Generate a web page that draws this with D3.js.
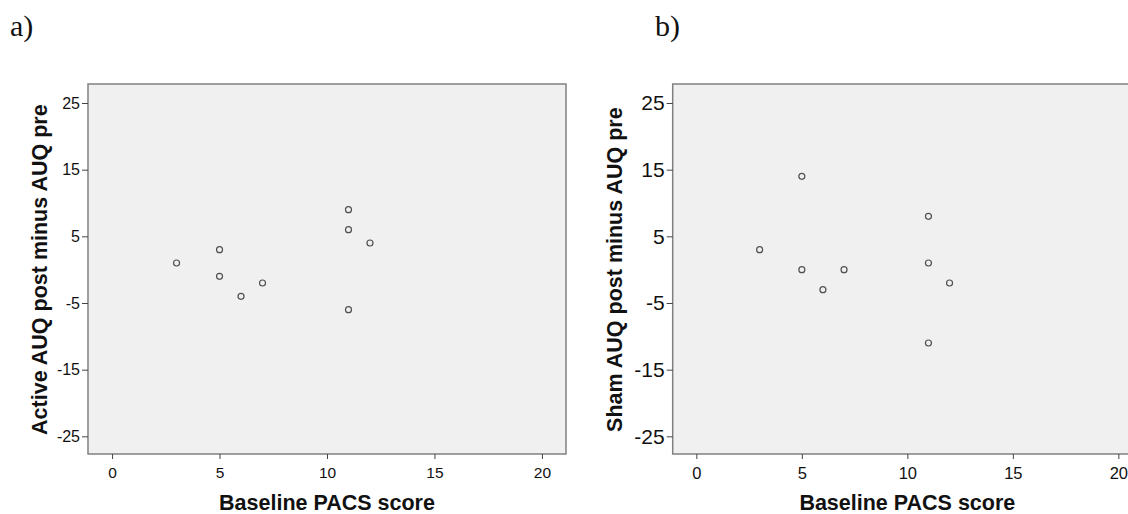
<!DOCTYPE html>
<html>
<head>
<meta charset="utf-8">
<script src="https://cdn.jsdelivr.net/npm/d3@7"></script>
<style>
  body { margin: 0; background: #fff; }
  svg { display: block; }
  text { font-family: "Liberation Sans", Arial, sans-serif; fill: #111; }
</style>
</head>
<body>
<svg id="chart" width="1128" height="514"></svg>
<script>
// data
var activeX = [3, 5, 5, 6, 7, 11, 11, 12, 11];
var activeY = [1, 3, -1, -4, -2, 9, 6, 4, -6];
var shamX = [3, 5, 5, 6, 7, 11, 11, 12, 11];
var shamY = [3, 14, 0, -3, 0, 8, 1, -2, -11];
var xTicks = [0, 5, 10, 15, 20];
var yTicks = [25, 15, 5, -5, -15, -25];

var svg = d3.select('#chart');

var panels = [
    { tag: 'a)', tagX: 10, left: 88, right: 566, xs: activeX, ys: activeY,
      yTitle: 'Active AUQ post minus AUQ pre', yTitleX: 47, yTickSize: 16, xTickSize: 15.5 },
    { tag: 'b)', tagX: 655, left: 672.7, right: 1142, xs: shamX, ys: shamY,
      yTitle: 'Sham AUQ post minus AUQ pre', yTitleX: 622, yTickSize: 21, xTickSize: 16.5 }
];

var plotTop = 84, plotBottom = 454;

// SPSS style labels use a plain hyphen, not the unicode minus
function plain(d) { return String(d); }

panels.forEach(function(p) {
    var x = d3.scaleLinear().domain([-1.12, 21.12]).range([p.left, p.right]);
    var y = d3.scaleLinear().domain([-27.65, 27.85]).range([plotBottom, plotTop]);

    svg.append('text')
        .attr('x', p.tagX)
        .attr('y', 36)
        .style('font-family', '"Liberation Serif", "Times New Roman", serif')
        .style('font-size', '30px')
        .text(p.tag);

    svg.append('rect')
        .attr('x', p.left)
        .attr('y', plotTop)
        .attr('width', p.right - p.left)
        .attr('height', plotBottom - plotTop)
        .attr('fill', '#f0f0f0')
        .attr('stroke', '#808080')
        .attr('stroke-width', 1.5);

    var gx = svg.append('g')
        .attr('transform', 'translate(0,' + plotBottom + ')')
        .call(d3.axisBottom(x).tickValues(xTicks).tickFormat(plain).tickSize(5).tickPadding(8));
    gx.select('.domain').remove();
    gx.selectAll('line').attr('stroke', '#444');
    gx.selectAll('text')
        .style('font-size', p.xTickSize + 'px')
        .attr('fill', '#111');

    var gy = svg.append('g')
        .attr('transform', 'translate(' + p.left + ',0)')
        .call(d3.axisLeft(y).tickValues(yTicks).tickFormat(plain).tickSize(6).tickPadding(2));
    gy.select('.domain').remove();
    gy.selectAll('line').attr('stroke', '#444');
    gy.selectAll('text')
        .style('font-size', p.yTickSize + 'px')
        .attr('fill', '#111');

    svg.append('text')
        .attr('x', (x(0) + x(20)) / 2)
        .attr('y', 510)
        .attr('text-anchor', 'middle')
        .style('font-size', '21.5px')
        .style('font-weight', 'bold')
        .text('Baseline PACS score');

    svg.append('text')
        .attr('transform', 'translate(' + p.yTitleX + ',' + y(0) + ') rotate(-90)')
        .attr('text-anchor', 'middle')
        .style('font-size', '21.5px')
        .style('font-weight', 'bold')
        .text(p.yTitle);

    svg.append('g')
        .selectAll('circle')
        .data(d3.range(p.xs.length))
        .join('circle')
        .attr('cx', function(i) { return x(p.xs[i]); })
        .attr('cy', function(i) { return y(p.ys[i]); })
        .attr('r', 3)
        .attr('fill', 'none')
        .attr('stroke', '#505050')
        .attr('stroke-width', 1.2);
});
</script>
</body>
</html>
